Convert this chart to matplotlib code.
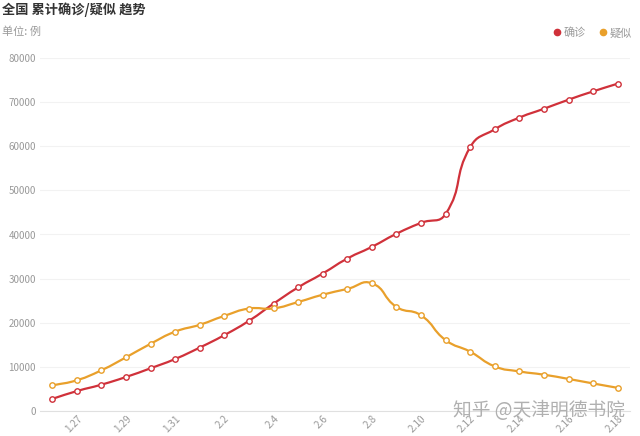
import matplotlib
matplotlib.use("Agg")
import matplotlib.pyplot as plt
import numpy as np
from matplotlib.path import Path
from matplotlib.patches import PathPatch
from matplotlib.lines import Line2D

plt.rcParams['font.family'] = ['Noto Sans CJK SC', 'DejaVu Sans']

dates = ["1.26", "1.27", "1.28", "1.29", "1.30", "1.31",
         "2.1", "2.2", "2.3", "2.4", "2.5", "2.6", "2.7", "2.8", "2.9",
         "2.10", "2.11", "2.12", "2.13", "2.14", "2.15", "2.16", "2.17", "2.18"]
confirmed = [2744, 4515, 5974, 7711, 9692, 11791, 14380, 17205, 20438, 24324,
             28018, 31161, 34546, 37198, 40171, 42638, 44653, 59804, 63851,
             66492, 68500, 70548, 72436, 74185]
suspected = [5794, 6973, 9239, 12167, 15238, 17988, 19544, 21558, 23214, 23260,
             24702, 26359, 27657, 28942, 23589, 21675, 16067, 13435, 10109,
             8969, 8228, 7264, 6242, 5248]
series_names = ["确诊", "疑似"]
colors = ["#d0313a", "#e9a02b"]
y_ticks = [0, 10000, 20000, 30000, 40000, 50000, 60000, 70000, 80000]

W, H = 640, 436
fig = plt.figure(figsize=(W / 100, H / 100), dpi=100)
ax = fig.add_axes([40 / W, (H - 411) / H, 590 / W, 353 / H])
x = np.arange(len(dates))
ax.set_xlim(-0.5, len(dates) - 0.5)
ax.set_ylim(0, 80000)


def smooth_path(xs, ys, smooth=0.5):
    pts = ax.transData.transform(np.column_stack([xs, ys]))
    n = len(pts)
    verts = [pts[0]]
    codes = [Path.MOVETO]
    cps = []
    for i in range(n):
        p = pts[i]
        prev = pts[i - 1] if i > 0 else p
        nxt = pts[i + 1] if i < n - 1 else p
        v = nxt - prev
        d0 = np.hypot(*(p - prev))
        d1 = np.hypot(*(p - nxt))
        s = d0 + d1
        if s > 0:
            d0 /= s
            d1 /= s
        cps.append((p - v * smooth * d0, p + v * smooth * d1))
    for i in range(n - 1):
        verts += [cps[i][1], cps[i + 1][0], pts[i + 1]]
        codes += [Path.CURVE4] * 3
    inv = ax.transData.inverted()
    return Path(inv.transform(np.array(verts)), codes)


for ys, c in zip([confirmed, suspected], colors):
    patch = PathPatch(smooth_path(x, ys), facecolor='none', edgecolor=c,
                      lw=1.6, zorder=3, capstyle='round', joinstyle='round')
    ax.add_patch(patch)
    ax.plot(x, ys, linestyle='none', marker='o', ms=3.9, mfc='white',
            mec=c, mew=1.0, zorder=4, clip_on=False)

for s in ['top', 'right', 'left']:
    ax.spines[s].set_visible(False)
ax.spines['bottom'].set_color('#e0e0e0')
ax.spines['bottom'].set_linewidth(0.8)
ax.set_yticks(y_ticks)
ax.set_yticklabels([str(v) for v in y_ticks])
ax.grid(axis='y', color='#f2f2f2', lw=0.8, zorder=0)
ax.tick_params(axis='y', length=0, labelsize=7, labelcolor='#999999', pad=3)
ax.set_xticks(x[1::2])
ax.set_xticklabels(dates[1::2], rotation=45, ha='right', rotation_mode='anchor')
ax.tick_params(axis='x', length=0, labelsize=7.2, labelcolor='#999999', pad=2)

fig.text(2 / W, 1 - 10 / H, "全国 累计确诊/疑似 趋势", fontsize=9.5, fontweight='bold',
         color='#333333', va='center', ha='left')
fig.text(2 / W, 1 - 32 / H, "单位: 例", fontsize=8, color='#999999',
         va='center', ha='left')

handles = [Line2D([0], [0], marker='o', linestyle='none', markersize=4.5,
                  markerfacecolor=c, markeredgecolor=c) for c in colors]
leg = fig.legend(handles, series_names, loc='center right',
                 bbox_to_anchor=(637 / W, 1 - 33 / H), ncol=2, frameon=False,
                 fontsize=8, handletextpad=0.1, columnspacing=1.0,
                 handlelength=1.0, borderpad=0)
for t in leg.get_texts():
    t.set_color('#999999')

fig.text(625 / W, 1 - 410 / H, "知乎 @天津明德书院", fontsize=13.5, color='#b0b0b0',
         ha='right', va='center', zorder=10, fontweight='light')

fig.savefig("out.png", dpi=100)
